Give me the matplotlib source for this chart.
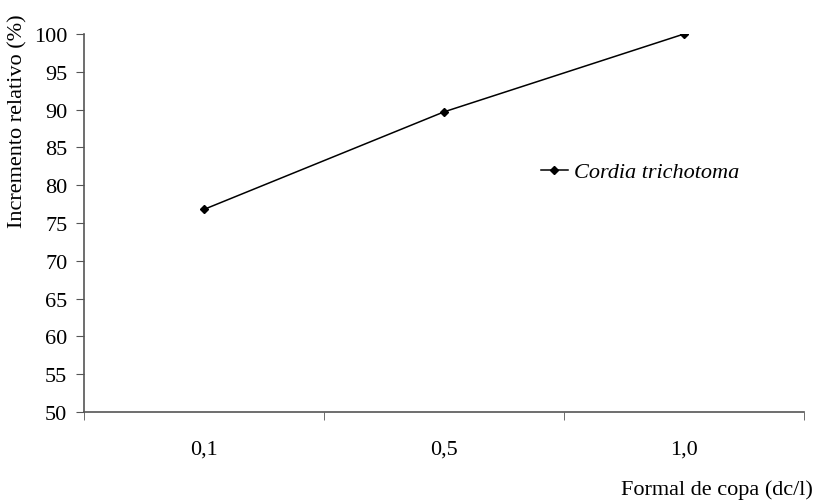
import matplotlib
matplotlib.use("Agg")
import matplotlib.pyplot as plt
import numpy as np

categories = ["0,1", "0,5", "1,0"]
values = [76.8, 89.7, 100.0]
series_name = "Cordia trichotoma"
yticks = [50, 55, 60, 65, 70, 75, 80, 85, 90, 95, 100]

plt.rcParams['font.family'] = ['Liberation Serif', 'DejaVu Serif']
FS = 16

fig = plt.figure(figsize=(8.2, 5.02), dpi=100)
ax = fig.add_axes([84/820, (502-413)/502, (804-84)/820, (413-35)/502])

x = np.arange(len(categories))
ax.plot(x, values, color='black', lw=1.1, marker='D', ms=4, mfc='black', mec='black',
        label=series_name)

ax.set_xlim(-0.5, len(categories) - 0.5)
ax.set_ylim(50, 100)
ax.set_yticks(yticks)
ax.set_yticklabels([str(v) for v in yticks], fontsize=FS)

ax.set_xticks(x)
ax.set_xticklabels(categories, fontsize=FS)
ax.tick_params(axis='x', which='major', length=0, pad=20)
ax.set_xticks(np.arange(-0.5, len(categories), 1.0), minor=True)
ax.tick_params(axis='x', which='minor', length=6, direction='out', color='#555555')
ax.tick_params(axis='y', length=6, direction='out', color='#555555', pad=6)

for s in ['top', 'right']:
    ax.spines[s].set_visible(False)
for s in ['left', 'bottom']:
    ax.spines[s].set_color('#555555')
    ax.spines[s].set_linewidth(1.2)

fig.text(813/820, 1 - 490/502, "Formal de copa (dc/l)", ha='right', va='center', fontsize=FS)
fig.text(18/820, 1 - 121/502, "Incremento relativo (%)", ha='center', va='center',
         rotation=90, fontsize=FS)

leg = ax.legend(loc='center left', bbox_to_anchor=(541/820, 1 - 173/502),
                bbox_transform=fig.transFigure, frameon=False,
                prop={'style': 'italic', 'size': FS}, handlelength=1.2, handletextpad=0.3,
                borderpad=0, borderaxespad=0)

fig.savefig("out.png", dpi=100)
